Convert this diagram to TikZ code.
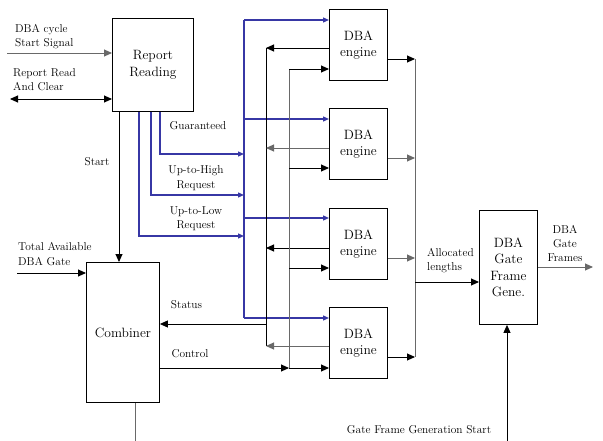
\documentclass[tikz,border=0pt]{standalone}
\usetikzlibrary{arrows.meta,calc}
\definecolor{bl}{RGB}{55,55,165}
\definecolor{gr}{RGB}{105,105,105}
\begin{document}
\begin{tikzpicture}[x=1pt,y=-1pt,
  box/.style={draw,line width=0.9pt,inner sep=0pt,align=center,font=\fontsize{13.5}{16.5}\selectfont},
  lab/.style={font=\fontsize{11.4}{14.5}\selectfont,inner sep=0pt},
  ar/.style={-{Triangle[length=8pt,width=7pt]}},
  bar/.style={-{Triangle[length=6pt,width=5pt]}},
  wire/.style={line width=0.9pt},
  gwire/.style={line width=0.9pt,draw=gr},
  bwire/.style={line width=1.3pt,draw=bl},
]
\useasboundingbox (0,0) rectangle (603,441);

% boxes
\node[box,minimum width=81pt,minimum height=93pt,anchor=north west] (rr) at (112,18) {Report\\Reading};
\node[box,minimum width=73pt,minimum height=140pt,anchor=north west] (comb) at (86,262) {Combiner};
\node[box,minimum width=58pt,minimum height=71pt,anchor=north west] (e1) at (329,9) {DBA\\engine};
\node[box,minimum width=58pt,minimum height=71pt,anchor=north west] (e2) at (329,108) {DBA\\engine};
\node[box,minimum width=58pt,minimum height=71pt,anchor=north west] (e3) at (329,208) {DBA\\engine};
\node[box,minimum width=58pt,minimum height=71pt,anchor=north west] (e4) at (329,307) {DBA\\engine};
\node[box,minimum width=58pt,minimum height=114pt,anchor=north west] (gfg) at (479,210) {DBA\\Gate\\Frame\\Gene.};

% labels
\node[lab,align=left,anchor=west] (l1) at (15,36.5) {DBA cycle\\Start Signal};
\node[lab,align=left,anchor=west] (l2) at (13,79.5) {Report Read\\And Clear};
\node[lab] (l3) at (97,162) {Start};
\node[lab] (l4) at (198,126) {Guaranteed};
\node[lab,align=center] (l5) at (196,178) {Up-to-High\\Request};
\node[lab,align=center] (l6) at (196,218.5) {Up-to-Low\\Request};
\node[lab,align=left,anchor=west] (l7) at (18,254) {Total Available\\DBA Gate};
\node[lab] (l8) at (186.5,305) {Status};
\node[lab] (l9) at (190,354) {Control};
\node[lab,align=left,anchor=west] (l10) at (427,260.5) {Allocated\\lengths};
\node[lab,align=center,font=\fontsize{11.4}{14}\selectfont] (l11) at (565,243) {DBA\\Gate\\Frames};
\node[lab] (l12) at (419,430) {Gate Frame Generation Start};

% coordinates
\coordinate (in1) at (7,53);
\coordinate (in2) at (10,99);
\coordinate (in3) at (17,273);
\coordinate (st) at (119,0);
\coordinate (g1) at (160,154);
\coordinate (g2) at (151,195);
\coordinate (g3) at (139,236);
\coordinate (b1) at (244,20);
\coordinate (b2) at (244,119);
\coordinate (b3) at (244,218);
\coordinate (b4) at (244,318);
\coordinate (s1) at (266,48);
\coordinate (s2) at (266,148);
\coordinate (s3) at (266,248);
\coordinate (s4) at (266,346);
\coordinate (sc) at (266,324);
\coordinate (c1) at (289,69);
\coordinate (c2) at (289,168);
\coordinate (c3) at (289,268);
\coordinate (c4) at (289,368);
\coordinate (o1) at (415,59);
\coordinate (o2) at (415,158);
\coordinate (o3) at (415,258);
\coordinate (o4) at (415,357);
\coordinate (o5) at (415,282);
\coordinate (go) at (593,267);
\coordinate (gs) at (507,441);
\coordinate (cb) at (135,441);

% inputs
\draw[gwire,ar] (in1) -- (in1 -| rr.west);
\draw[wire,{Triangle[length=8pt,width=7pt]}-{Triangle[length=8pt,width=7pt]}] (in2) -- (in2 -| rr.west);
\draw[wire,ar] (in3) -- (in3 -| comb.west);
\draw[wire,ar] (st |- rr.south) -- (st |- comb.north);

% blue request lines
\draw[bwire,bar] (g1 |- rr.south) -- (g1) -- (b1 |- g1);
\draw[bwire,bar] (g2 |- rr.south) -- (g2) -- (b1 |- g2);
\draw[bwire,bar] (g3 |- rr.south) -- (g3) -- (b1 |- g3);
\draw[bwire] (b1) -- (b4);
\draw[bwire,bar] (b1) -- (b1 -| e1.west);
\draw[bwire,bar] (b2) -- (b2 -| e2.west);
\draw[bwire,bar] (b3) -- (b3 -| e3.west);
\draw[bwire,bar] (b4) -- (b4 -| e4.west);

% status lines
\draw[wire] (s1) -- (s4);
\draw[wire,ar] (s1 -| e1.west) -- (s1);
\draw[gwire,ar] (s2 -| e2.west) -- (s2);
\draw[wire,ar] (s3 -| e3.west) -- (s3);
\draw[gwire,ar] (s4 -| e4.west) -- (s4);
\draw[wire,ar] (sc) -- (sc -| comb.east);

% control lines
\draw[gwire] (c1) -- (c4);
\draw[wire,ar] (c1) -- (c1 -| e1.west);
\draw[wire,ar] (c2) -- (c2 -| e2.west);
\draw[wire,ar] (c3) -- (c3 -| e3.west);
\draw[wire,ar] (c4) -- (c4 -| e4.west);
\draw[wire,ar] (c4 -| comb.east) -- (c4);

% outputs
\draw[gwire] (o1) -- (o4);
\draw[wire,ar] (o1 -| e1.east) -- (o1);
\draw[gwire,ar] (o2 -| e2.east) -- (o2);
\draw[gwire,ar] (o3 -| e3.east) -- (o3);
\draw[wire,ar] (o4 -| e4.east) -- (o4);
\draw[wire,ar] (o5) -- (o5 -| gfg.west);
\draw[gwire,ar] (go -| gfg.east) -- (go);
\draw[wire,ar] (gs) -- (gs |- gfg.south);
\draw[gwire] (cb |- comb.south) -- (cb);
\end{tikzpicture}
\end{document}
